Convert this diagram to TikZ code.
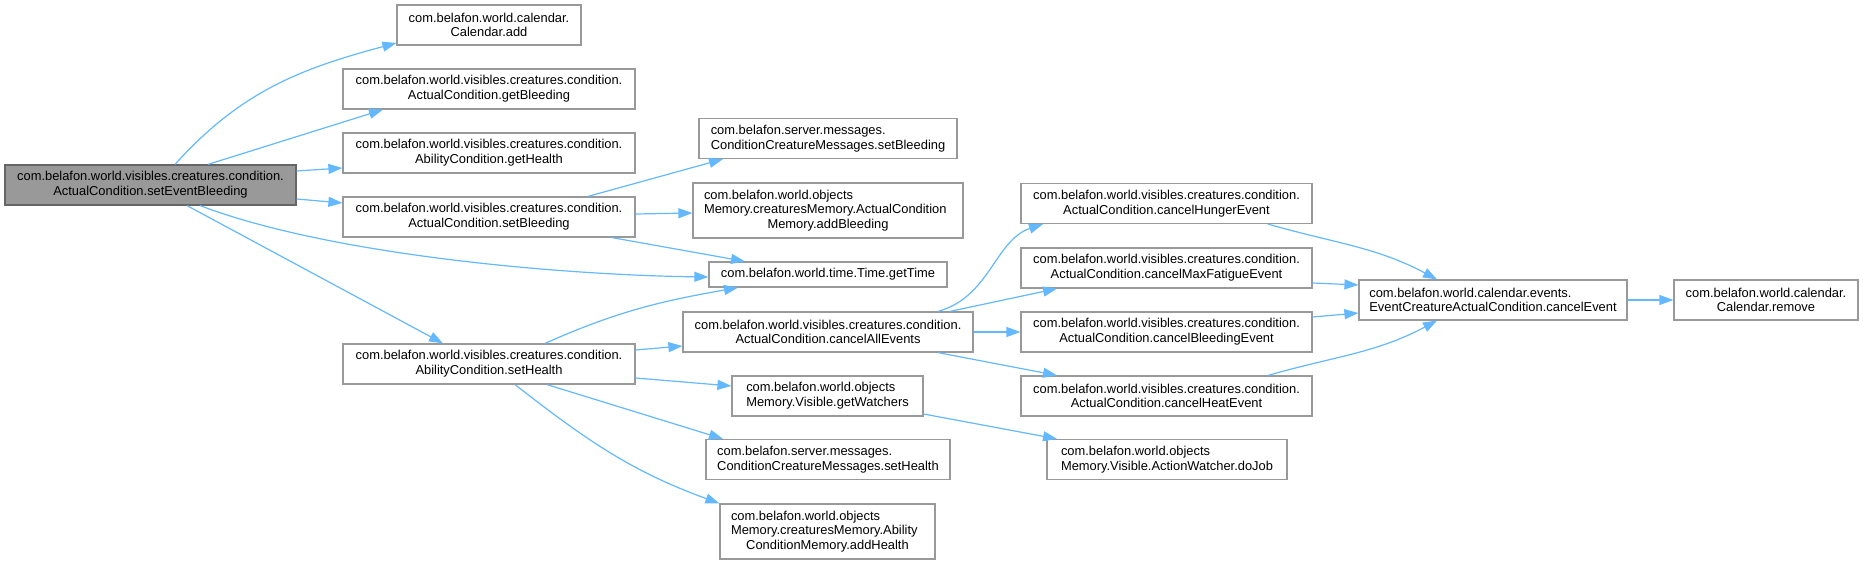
\documentclass[tikz,border=0pt]{standalone}
\usepackage{fontspec}
\setmainfont{Liberation Sans}
\usepackage{tikz}
\usetikzlibrary{arrows.meta, positioning}
\definecolor{edgeblue}{HTML}{63B8FF}
\definecolor{boxgray}{HTML}{999999}
\definecolor{curfill}{HTML}{999999}
\definecolor{curdraw}{HTML}{666666}
\newcommand{\lln}[1]{\makebox[\hsize][l]{#1}}

\begin{document}
\begin{tikzpicture}[x=1pt, y=1pt,
  fn/.style={draw=boxgray, fill=white, line width=1.2pt, inner sep=0pt,
    minimum height=40pt, align=center, font=\fontsize{12.9}{14.7}\selectfont},
  cur/.style={fn, draw=curdraw, fill=curfill},
  lf/.style={fn, align=left},
  ar/.style={-{Triangle[length=14pt,width=10pt]}, line width=1.2pt, edgeblue}
]
  \useasboundingbox (0,0) rectangle (1864,565);
  \node[cur, minimum width=291pt] (a) at (150.5,380) {com.belafon.world.visibles.creatures.condition.\\ActualCondition.setEventBleeding};
  \node[fn, minimum width=184pt] (b) at (489,540) {com.belafon.world.calendar.\\Calendar.add};
  \node[fn, minimum width=292pt] (c) at (489,476) {com.belafon.world.visibles.creatures.condition.\\ActualCondition.getBleeding};
  \node[fn, minimum width=292pt] (d) at (489,412) {com.belafon.world.visibles.creatures.condition.\\AbilityCondition.getHealth};
  \node[fn, minimum width=292pt] (e) at (489,348) {com.belafon.world.visibles.creatures.condition.\\ActualCondition.setBleeding};
  \node[fn, minimum width=292pt] (f) at (489,201) {com.belafon.world.visibles.creatures.condition.\\AbilityCondition.setHealth};
  \node[lf, minimum width=258pt] (g) at (828,426.5) {com.belafon.server.messages.\\ConditionCreatureMessages.setBleeding};
  \node[fn, minimum width=270pt, minimum height=55pt, text width=248pt] (h) at (828,354.5) {\lln{com.belafon.world.objects}\\\lln{Memory.creaturesMemory.ActualCondition}\\Memory.addBleeding};
  \node[fn, minimum width=238pt, minimum height=25pt] (i) at (828,290.5) {com.belafon.world.time.Time.getTime};
  \node[fn, minimum width=290pt] (j) at (828,233) {com.belafon.world.visibles.creatures.condition.\\ActualCondition.cancelAllEvents};
  \node[lf, minimum width=191pt] (k) at (827.5,169) {com.belafon.world.objects\\Memory.Visible.getWatchers};
  \node[lf, minimum width=244pt] (l) at (828,105.5) {com.belafon.server.messages.\\ConditionCreatureMessages.setHealth};
  \node[fn, minimum width=215pt, minimum height=55pt, text width=193pt] (m) at (827.5,33.5) {\lln{com.belafon.world.objects}\\\lln{Memory.creaturesMemory.Ability}\\ConditionMemory.addHealth};
  \node[fn, minimum width=291pt] (n) at (1166.5,361.5) {com.belafon.world.visibles.creatures.condition.\\ActualCondition.cancelHungerEvent};
  \node[fn, minimum width=291pt] (o) at (1166.5,297) {com.belafon.world.visibles.creatures.condition.\\ActualCondition.cancelMaxFatigueEvent};
  \node[fn, minimum width=291pt] (p) at (1166.5,233) {com.belafon.world.visibles.creatures.condition.\\ActualCondition.cancelBleedingEvent};
  \node[fn, minimum width=291pt] (q) at (1166.5,169) {com.belafon.world.visibles.creatures.condition.\\ActualCondition.cancelHeatEvent};
  \node[lf, minimum width=240pt] (r) at (1167,105.5) {com.belafon.world.objects\\Memory.Visible.ActionWatcher.doJob};
  \node[lf, minimum width=268pt] (s) at (1493,265) {com.belafon.world.calendar.events.\\EventCreatureActualCondition.cancelEvent};
  \node[fn, minimum width=184pt] (t) at (1766,265) {com.belafon.world.calendar.\\Calendar.remove};

  \draw[ar] ([xshift=24.5pt]a.north) to[out=48,in=195] ([yshift=-18pt]b.west);
  \draw[ar] ([xshift=57.5pt]a.north) -- ([xshift=-106pt]c.south);
  \draw[ar] ([yshift=14pt]a.east) -- ([yshift=-15pt]d.west);
  \draw[ar] ([yshift=-14pt]a.east) -- ([yshift=14pt]e.west);
  \draw[ar] ([xshift=49.5pt]a.south) .. controls (330,310) and (560,290) .. ([yshift=-2.5pt]i.west);
  \draw[ar] ([xshift=36.5pt]a.south) -- ([xshift=-46pt]f.north);
  \draw[ar] ([xshift=99pt]e.north) -- ([xshift=-105pt]g.south);
  \draw[ar] ([yshift=3pt]e.east) -- ([yshift=-2.5pt]h.west);
  \draw[ar] ([xshift=123pt]e.south) -- ([xshift=-83pt]i.north);
  \draw[ar] ([xshift=56pt]f.north) to[out=24,in=190] ([xshift=-90pt]i.south);
  \draw[ar] ([yshift=14pt]f.east) -- ([yshift=-14pt]j.west);
  \draw[ar] ([yshift=-14pt]f.east) -- ([yshift=10pt]k.west);
  \draw[ar] ([xshift=58pt]f.south) -- ([xshift=-105pt]l.north);
  \draw[ar] ([xshift=26pt]f.south) to[out=-38,in=160] (m.north west);
  \draw[ar] ([xshift=110pt]j.north) .. controls (990,268) and (995,325) .. ([xshift=-123.5pt]n.south);
  \draw[ar] ([xshift=122pt]j.north) -- ([xshift=-109.5pt]o.south);
  \draw[ar] (j.east) -- (p.west);
  \draw[ar] ([xshift=110pt]j.south) -- ([xshift=-109.5pt]q.north);
  \draw[ar] ([yshift=-18pt]k.east) -- ([xshift=-110pt]r.north);
  \draw[ar] ([xshift=101.5pt]n.south) to[out=-16,in=152] ([xshift=-56pt]s.north);
  \draw[ar] ([yshift=-15pt]o.east) -- ([yshift=15pt]s.west);
  \draw[ar] ([yshift=15pt]p.east) -- ([yshift=-13pt]s.west);
  \draw[ar] ([xshift=101.5pt]q.north) to[out=16,in=-152] ([xshift=-56pt]s.south);
  \draw[ar] (s.east) -- (t.west);
\end{tikzpicture}
\end{document}
